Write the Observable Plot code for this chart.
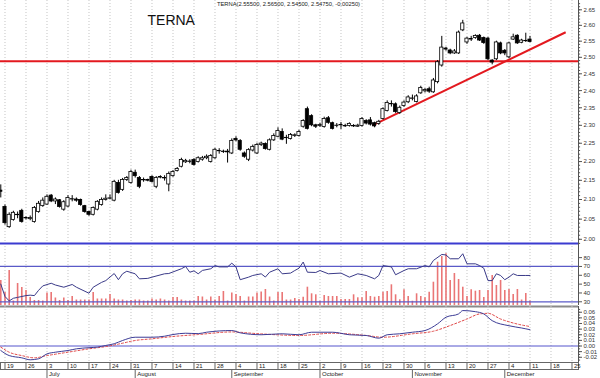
<!DOCTYPE html>
<html><head><meta charset="utf-8">
<script src="https://cdn.jsdelivr.net/npm/d3@7"></script>
<script src="https://cdn.jsdelivr.net/npm/@observablehq/plot@0.6"></script>
<style>
html,body{margin:0;padding:0;background:#fff;}
#chart{position:relative;width:600px;height:378px;overflow:hidden;background:#fff;}
#chart svg{position:absolute;left:0;top:0;}
</style></head><body><div id="chart"></div>
<script>
// ---- DATA (trading days, k = 0 is Mon 19 June 2006, k = -1 is Fri 16 June) ----
const firstK = -1;
const open = [
2.123,2.081,2.030,2.048,2.060,2.071,2.053,2.050,2.043,2.068,
2.083,2.087,2.110,2.095,2.098,2.074,2.082,2.100,2.100,2.099,
2.083,2.068,2.061,2.074,2.086,2.099,2.102,2.097,2.143,2.125,
2.151,2.143,2.170,2.156,2.151,2.151,2.159,2.133,2.157,2.155,
2.139,2.161,2.175,2.186,2.198,2.199,2.204,2.199,2.205,2.209,
2.199,2.209,2.228,2.227,2.225,2.222,2.262,2.256,2.222,2.205,
2.230,2.222,2.245,2.248,2.232,2.258,2.268,2.281,2.264,2.262,
2.270,2.270,2.296,2.346,2.326,2.300,2.298,2.295,2.320,2.306,
2.298,2.300,2.298,2.298,2.298,2.296,2.298,2.312,2.314,2.306,
2.304,2.318,2.341,2.360,2.360,2.335,2.355,2.366,2.376,2.367,
2.392,2.398,2.404,2.395,2.425,2.475,2.527,2.521,2.512,2.512,
2.584,2.546,2.555,2.560,2.567,2.560,2.558,2.490,2.494,2.543,
2.520,2.500,2.555,2.567,2.545,2.551,2.555];
const high = [
2.138,2.086,2.066,2.070,2.068,2.075,2.056,2.058,2.082,2.095,
2.104,2.112,2.113,2.104,2.100,2.097,2.110,2.110,2.104,2.101,
2.085,2.070,2.081,2.097,2.104,2.112,2.112,2.150,2.150,2.155,
2.160,2.177,2.177,2.160,2.156,2.153,2.162,2.160,2.162,2.162,
2.172,2.176,2.184,2.209,2.206,2.205,2.208,2.213,2.214,2.218,
2.219,2.236,2.235,2.231,2.233,2.262,2.268,2.260,2.226,2.235,
2.245,2.250,2.253,2.251,2.262,2.276,2.293,2.290,2.272,2.277,
2.276,2.286,2.316,2.352,2.330,2.303,2.306,2.323,2.325,2.309,
2.305,2.308,2.303,2.307,2.302,2.303,2.322,2.316,2.322,2.309,
2.314,2.350,2.370,2.370,2.364,2.355,2.370,2.385,2.387,2.388,
2.413,2.406,2.410,2.436,2.490,2.565,2.531,2.525,2.524,2.582,
2.616,2.562,2.565,2.570,2.571,2.563,2.562,2.493,2.550,2.547,
2.524,2.547,2.572,2.570,2.556,2.575,2.565];
const low = [
2.104,2.035,2.027,2.045,2.051,2.040,2.048,2.046,2.040,2.065,
2.080,2.085,2.092,2.087,2.078,2.070,2.079,2.094,2.093,2.083,
2.065,2.057,2.058,2.071,2.083,2.096,2.099,2.094,2.114,2.121,
2.147,2.140,2.156,2.128,2.145,2.146,2.143,2.128,2.154,2.148,
2.120,2.158,2.172,2.183,2.195,2.194,2.188,2.196,2.201,2.205,
2.196,2.206,2.220,2.222,2.196,2.219,2.254,2.228,2.209,2.200,
2.226,2.219,2.241,2.231,2.229,2.255,2.265,2.257,2.247,2.259,
2.266,2.267,2.292,2.287,2.296,2.291,2.294,2.292,2.303,2.287,
2.293,2.288,2.294,2.295,2.294,2.294,2.295,2.301,2.298,2.293,
2.300,2.315,2.338,2.352,2.334,2.331,2.351,2.362,2.370,2.364,
2.389,2.393,2.392,2.392,2.420,2.470,2.519,2.508,2.509,2.509,
2.580,2.540,2.549,2.556,2.549,2.540,2.490,2.477,2.490,2.508,
2.505,2.496,2.552,2.540,2.542,2.546,2.545];
const close = [
2.120,2.040,2.061,2.066,2.061,2.043,2.052,2.053,2.078,2.089,
2.097,2.107,2.095,2.100,2.081,2.093,2.104,2.101,2.097,2.086,
2.068,2.061,2.078,2.094,2.099,2.102,2.103,2.146,2.117,2.151,
2.156,2.172,2.161,2.133,2.150,2.149,2.146,2.156,2.159,2.156,
2.167,2.172,2.180,2.204,2.202,2.200,2.191,2.209,2.209,2.213,
2.215,2.232,2.229,2.226,2.227,2.256,2.258,2.232,2.213,2.231,
2.240,2.245,2.249,2.234,2.258,2.270,2.284,2.260,2.265,2.273,
2.272,2.281,2.312,2.290,2.300,2.296,2.301,2.318,2.307,2.290,
2.299,2.301,2.297,2.304,2.297,2.299,2.318,2.305,2.302,2.297,
2.310,2.346,2.364,2.361,2.338,2.350,2.365,2.380,2.377,2.383,
2.408,2.402,2.397,2.430,2.485,2.530,2.524,2.512,2.518,2.577,
2.606,2.558,2.557,2.566,2.552,2.544,2.494,2.484,2.546,2.512,
2.512,2.543,2.562,2.543,2.552,2.550,2.5475];
const volume = [
25,13,35,4.5,22,18,15,8,5,5,
4.5,12.5,13,7.5,5,7.5,5,9,5.5,5.5,
5.5,5.5,13,6.5,6.5,6.5,11,6.5,5.5,5.5,
4.5,5,5.5,5.5,4.5,4.5,6.5,5.5,6.5,5.5,
4.5,8,8,5.5,4.5,4.5,4.5,9,8.5,5.5,
8.5,5.5,9,14,4.5,12.5,11,9,4.5,8.5,
8.5,12.5,13.5,16,8.5,4.5,13,13,5.5,5.5,
7,6,8.3,18.3,11.7,10.7,4.3,10,9,9,
9,6,6,6,10.7,7.7,7.7,14,9,8.3,
9,13.3,14,20.7,10.7,5.7,15.7,9,4.3,11.7,
9,7.7,13.3,23.3,43.3,49,51.7,25,32,26,
18.3,9,15.7,14.3,15,8,15,30,20,25,
15,16,11,16,5.5,12,4.5];

const rsiK = [-1,0,1,2,3,5,6,7,8,9,11,12,14,16,17,20,21,23,24,26,27,28,29,31,32,34,35,38,39,42,43,44,45,46,47,49,50,51,53,54,55,56,58,59,61,62,63,65,66,68,69,70,71,72,74,75,77,80,82,84,86,88,89,90,92,93,95,96,98,100,101,102,104,105,106,108,109,110,112,113,114,115,116,117,118,119,120,121,122,124,125];
const rsiV = [50,36,31,34,35,37,37.5,37,43,48,51,49,46.5,49.6,46.5,39.7,46.5,52,54,62,55,61.7,64.6,61.7,56,56.5,57.9,61.7,62,67.4,70,63.5,65,61.7,65.5,67.4,71,69.5,69.5,73.7,69.5,55,57.9,59.8,61.7,58,63.5,67.4,61.7,62.5,65.4,68,75,63.5,63.2,65.4,61.7,62.5,57.9,61.7,59.8,56,59.8,71,69.5,60.6,65.4,67.4,67.4,71,69.5,76.8,83.6,83,78.7,78.7,84.4,73,73,71,68,54,54,61.7,59.8,55,57.9,61.7,59.8,59.8,59.8];
const rsiLevels = [70, 30];

const macdK = [-1,1,4,6,8,10,12,15,17,20,22,24,26,28,31,35,38,40,43,46,48,54,56,61,66,70,73,78,82,86,89,91,94,97,100,103,105,108,109,112,114,116,120,123,125];
const macdV = [-0.008,-0.017,-0.021,-0.0245,-0.0227,-0.014,-0.011,-0.008,-0.005,-0.003,-0.002,0.001,0.004,0.0098,0.0156,0.0156,0.0174,0.0204,0.0227,0.022,0.0245,0.0275,0.0234,0.020,0.0217,0.020,0.0245,0.0245,0.020,0.0187,0.0139,0.020,0.0217,0.0245,0.0275,0.0394,0.0512,0.057,0.063,0.061,0.057,0.045,0.036,0.032,0.029];
const signalK = [-1,1,4,7,10,15,20,24,28,31,35,40,46,54,60,70,78,86,90,97,102,106,110,113,115,118,122,125];
const signalV = [-0.002,-0.011,-0.017,-0.021,-0.017,-0.011,-0.005,-0.001,0.005,0.0098,0.0128,0.0169,0.0204,0.025,0.022,0.0187,0.0227,0.0187,0.0156,0.0217,0.0263,0.0364,0.048,0.057,0.058,0.048,0.039,0.0346];

const supportLevel = 2.488;
const trendFrom = {k: 87.5, p: 2.300};
const trendTo = {k: 133.5, p: 2.578};

const weekLabels = ["19","26","3","10","17","24","31","7","14","21","28","4","11","18","25","2","9","16","23","30","6","13","20","27","4","11","18","25"];
const monthLabels = ["July","August","September","October","November","December"];
const monthK = [10, 31, 54, 75, 97, 119];
const priceTicks = [2.00,2.05,2.10,2.15,2.20,2.25,2.30,2.35,2.40,2.45,2.50,2.55,2.60,2.65];
const rsiTicks = [30,40,50,60,70,80];
const macdTicks = [-0.02,-0.01,0.00,0.01,0.02,0.03,0.04,0.05,0.06];
const titleText = "TERNA";
const quoteText = "TERNA(2.55500, 2.56500, 2.54500, 2.54750, -0.00250)";

// ---- BUILD ----
const candles = open.map((o, i) => ({k: firstK + i, o, h: high[i], l: low[i], c: close[i], v: volume[i]}));
const weekK = weekLabels.map((d, i) => i * 5);
const rsi = rsiK.map((k, i) => ({k, v: rsiV[i]}));
const macd = macdK.map((k, i) => ({k, v: macdV[i]}));
const signal = signalK.map((k, i) => ({k, v: signalV[i]}));

const W = 600, H = 378;
const xDomain = [-1.07, 136.55];
const minorLen = 0.5; // minor tick length, in x units beyond the right edge
const font = "Liberation Sans, Arial, sans-serif";
const base = {width: W, height: H, marginLeft: 0, marginRight: 22,
  x: {domain: xDomain, axis: null, label: null},
  style: {background: "transparent", fontFamily: font, overflow: "visible"}};
const grid = () => Plot.ruleX(weekK, {stroke: "#c4c4c4", strokeDasharray: "1,2", strokeWidth: 1});
const axisLine = () => Plot.ruleX([xDomain[1]], {stroke: "#555", strokeWidth: 1});
const minorTicks = (vals) => Plot.ruleY(vals, {x1: xDomain[1], x2: xDomain[1] + minorLen, stroke: "#555", strokeWidth: 1});
const lab = {fill: "#333", fontSize: 6, label: null};

const priceDomain = [1.9897, 2.6804];
const minorPrice = d3.range(199, 268).map(d => d / 100);
const price = Plot.plot({...base, marginTop: 0, marginBottom: H - 243,
  y: {type: "log", domain: priceDomain, axis: null, label: null},
  marks: [
    grid(),
    Plot.ruleY([supportLevel], {stroke: "#e3191f", strokeWidth: 2}),
    Plot.link([{}], {x1: () => trendFrom.k, y1: () => trendFrom.p, x2: () => trendTo.k, y2: () => trendTo.p, stroke: "#e3191f", strokeWidth: 2}),
    Plot.ruleX(candles, {x: "k", y1: "l", y2: "h", stroke: "#000", strokeWidth: 1}),
    Plot.rect(candles, {x1: d => d.k - 0.38, x2: d => d.k + 0.38,
      y1: d => Math.min(d.o, d.c), y2: d => Math.max(d.o, d.c),
      fill: d => d.c < d.o ? "#000" : "#fff", stroke: "#000", strokeWidth: 0.8}),
    axisLine(),
    minorTicks(minorPrice),
    Plot.axisY(priceTicks, {anchor: "right", tickSize: 3, tickPadding: 2, tickFormat: d => d.toFixed(2), stroke: "#555", ...lab}),
    Plot.text([titleText], {frameAnchor: "top-left", dx: 147, dy: 15, fontSize: 14, fill: "#111", textAnchor: "start", lineAnchor: "top"}),
    Plot.text([quoteText], {frameAnchor: "top", dx: -1, dy: 1, fontSize: 5.8, fill: "#222", lineAnchor: "top"})
  ]});

const rsiDomain = [25.8, 96.0];
const vol = Plot.plot({...base, marginTop: 243, marginBottom: H - 305,
  y: {domain: [0, 62], axis: null, label: null},
  marks: [
    grid(),
    Plot.ruleX(candles, {x: "k", y1: 0, y2: "v", stroke: "#ea7676", strokeWidth: 1.6})
  ]});

const rsiPlot = Plot.plot({...base, marginTop: 243, marginBottom: H - 305,
  y: {domain: rsiDomain, axis: null, label: null},
  marks: [
    Plot.ruleY(rsiLevels, {stroke: "#5a5ac8", strokeWidth: 1.2}),
    Plot.line(rsi, {x: "k", y: "v", stroke: "#3a3a88", strokeWidth: 1}),
    Plot.ruleY([rsiDomain[1]], {stroke: "#3b3bd0", strokeWidth: 2}),
    Plot.ruleY([rsiDomain[0]], {stroke: "#8a8a8a", strokeWidth: 2, dy: 1}),
    axisLine(),
    Plot.axisY(rsiTicks, {anchor: "right", tickSize: 3, tickPadding: 2, stroke: "#555", ...lab})
  ]});

const macdDomain = [-0.0293, 0.0702];
const minorMacd = d3.range(-5, 14).map(d => d / 200);
const macdPlot = Plot.plot({...base, marginTop: 306, marginBottom: H - 362,
  y: {domain: macdDomain, axis: null, label: null},
  marks: [
    grid(),
    Plot.ruleY([0], {stroke: "#5555cc", strokeWidth: 1}),
    Plot.line(signal, {x: "k", y: "v", stroke: "#e04848", strokeWidth: 1, strokeDasharray: "2,2", curve: "monotone-x"}),
    Plot.line(macd, {x: "k", y: "v", stroke: "#3c3c96", strokeWidth: 1, curve: "monotone-x"}),
    axisLine(),
    minorTicks(minorMacd),
    Plot.axisY(macdTicks, {anchor: "right", tickSize: 3, tickPadding: 2, tickFormat: d => d.toFixed(2), stroke: "#555", ...lab})
  ]});

const days = Plot.plot({...base, marginTop: 362, marginBottom: H - 369,
  marks: [
    Plot.frame({stroke: "#666", strokeWidth: 1}),
    Plot.ruleX(weekK, {stroke: "#666", strokeWidth: 1}),
    Plot.text(weekK, {x: d => d, text: (d, i) => weekLabels[i], frameAnchor: "middle", textAnchor: "start", dx: 2, fontSize: 6, fill: "#222"})
  ]});

const months = Plot.plot({...base, marginTop: 369, marginBottom: 0,
  marks: [
    Plot.ruleX(monthK, {stroke: "#666", strokeWidth: 1}),
    Plot.text(monthK, {x: d => d, text: (d, i) => monthLabels[i], frameAnchor: "middle", textAnchor: "start", dx: 2, dy: 0.5, fontSize: 6, fill: "#222"})
  ]});

const root = document.getElementById("chart");
for (const p of [price, vol, rsiPlot, macdPlot, days, months]) root.appendChild(p);
</script></body></html>
